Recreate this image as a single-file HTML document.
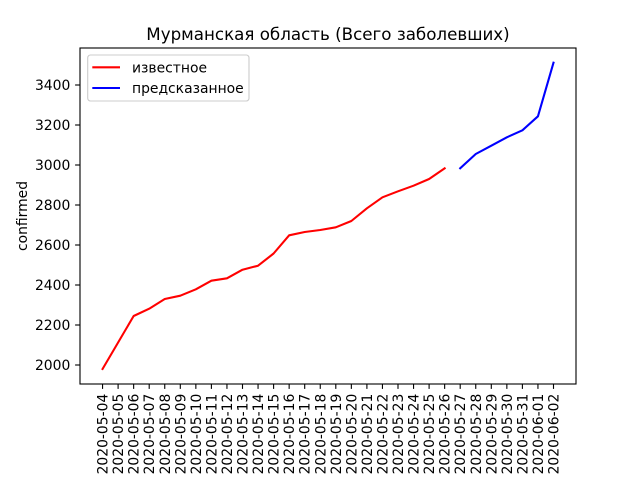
<!DOCTYPE html>
<html><head><meta charset="utf-8"><style>
html,body{margin:0;padding:0;background:#fff;}
svg{display:block;}
text{font-family:"DejaVu Sans","Liberation Sans",sans-serif;fill:#000;}
</style></head><body>
<svg width="640" height="480" viewBox="0 0 640 480" xmlns="http://www.w3.org/2000/svg">
<rect width="640" height="480" fill="#fff"/>
<text x="328" y="40" font-size="16.7" text-anchor="middle">Мурманская область (Всего заболевших)</text>
<!-- series -->
<polyline fill="none" stroke="#ff0000" stroke-width="2.08" stroke-linejoin="round" stroke-linecap="square" points="102.55,369 118.1,342.5 133.65,316 149.2,308.7 164.75,299 180.3,295.7 195.85,289.3 211.4,280.7 226.95,278.3 242.5,269.7 258.05,265.7 273.6,253.5 289.15,235.3 304.7,232 320.25,230 335.8,227.3 351.35,221 366.9,208.3 382.45,197.3 398,191.3 413.55,185.7 429.1,179 444.65,168.3"/>
<polyline fill="none" stroke="#0000ff" stroke-width="2.08" stroke-linejoin="round" stroke-linecap="square" points="460.2,168.3 475.75,154 491.3,145.7 506.85,137.3 522.4,130.3 537.95,116.3 553.5,62.7"/>
<!-- axes frame -->
<rect x="80" y="48" width="496" height="336" fill="none" stroke="#000" stroke-width="1.11"/>
<!-- y ticks -->
<g stroke="#000" stroke-width="1.11">
<line x1="75.1" y1="85" x2="80" y2="85"/>
<line x1="75.1" y1="125" x2="80" y2="125"/>
<line x1="75.1" y1="165" x2="80" y2="165"/>
<line x1="75.1" y1="205" x2="80" y2="205"/>
<line x1="75.1" y1="245" x2="80" y2="245"/>
<line x1="75.1" y1="285" x2="80" y2="285"/>
<line x1="75.1" y1="325" x2="80" y2="325"/>
<line x1="75.1" y1="365" x2="80" y2="365"/>
</g>
<g font-size="13.9" text-anchor="end">
<text x="70.3" y="90">3400</text>
<text x="70.3" y="130">3200</text>
<text x="70.3" y="170">3000</text>
<text x="70.3" y="210">2800</text>
<text x="70.3" y="250">2600</text>
<text x="70.3" y="290">2400</text>
<text x="70.3" y="330">2200</text>
<text x="70.3" y="370">2000</text>
</g>
<text transform="translate(27,216) rotate(-90)" font-size="13.9" text-anchor="middle">confirmed</text>
<!-- x ticks -->
<g stroke="#000" stroke-width="1.11">
<line x1="102.55" y1="384" x2="102.55" y2="388.9"/>
<line x1="118.1" y1="384" x2="118.1" y2="388.9"/>
<line x1="133.65" y1="384" x2="133.65" y2="388.9"/>
<line x1="149.2" y1="384" x2="149.2" y2="388.9"/>
<line x1="164.75" y1="384" x2="164.75" y2="388.9"/>
<line x1="180.3" y1="384" x2="180.3" y2="388.9"/>
<line x1="195.85" y1="384" x2="195.85" y2="388.9"/>
<line x1="211.4" y1="384" x2="211.4" y2="388.9"/>
<line x1="226.95" y1="384" x2="226.95" y2="388.9"/>
<line x1="242.5" y1="384" x2="242.5" y2="388.9"/>
<line x1="258.05" y1="384" x2="258.05" y2="388.9"/>
<line x1="273.6" y1="384" x2="273.6" y2="388.9"/>
<line x1="289.15" y1="384" x2="289.15" y2="388.9"/>
<line x1="304.7" y1="384" x2="304.7" y2="388.9"/>
<line x1="320.25" y1="384" x2="320.25" y2="388.9"/>
<line x1="335.8" y1="384" x2="335.8" y2="388.9"/>
<line x1="351.35" y1="384" x2="351.35" y2="388.9"/>
<line x1="366.9" y1="384" x2="366.9" y2="388.9"/>
<line x1="382.45" y1="384" x2="382.45" y2="388.9"/>
<line x1="398" y1="384" x2="398" y2="388.9"/>
<line x1="413.55" y1="384" x2="413.55" y2="388.9"/>
<line x1="429.1" y1="384" x2="429.1" y2="388.9"/>
<line x1="444.65" y1="384" x2="444.65" y2="388.9"/>
<line x1="460.2" y1="384" x2="460.2" y2="388.9"/>
<line x1="475.75" y1="384" x2="475.75" y2="388.9"/>
<line x1="491.3" y1="384" x2="491.3" y2="388.9"/>
<line x1="506.85" y1="384" x2="506.85" y2="388.9"/>
<line x1="522.4" y1="384" x2="522.4" y2="388.9"/>
<line x1="537.95" y1="384" x2="537.95" y2="388.9"/>
<line x1="553.5" y1="384" x2="553.5" y2="388.9"/>
</g>
<g font-size="13.9" text-anchor="end">
<text transform="translate(107.55,393.7) rotate(-90)">2020-05-04</text>
<text transform="translate(123.1,393.7) rotate(-90)">2020-05-05</text>
<text transform="translate(138.65,393.7) rotate(-90)">2020-05-06</text>
<text transform="translate(154.2,393.7) rotate(-90)">2020-05-07</text>
<text transform="translate(169.75,393.7) rotate(-90)">2020-05-08</text>
<text transform="translate(185.3,393.7) rotate(-90)">2020-05-09</text>
<text transform="translate(200.85,393.7) rotate(-90)">2020-05-10</text>
<text transform="translate(216.4,393.7) rotate(-90)">2020-05-11</text>
<text transform="translate(231.95,393.7) rotate(-90)">2020-05-12</text>
<text transform="translate(247.5,393.7) rotate(-90)">2020-05-13</text>
<text transform="translate(263.05,393.7) rotate(-90)">2020-05-14</text>
<text transform="translate(278.6,393.7) rotate(-90)">2020-05-15</text>
<text transform="translate(294.15,393.7) rotate(-90)">2020-05-16</text>
<text transform="translate(309.7,393.7) rotate(-90)">2020-05-17</text>
<text transform="translate(325.25,393.7) rotate(-90)">2020-05-18</text>
<text transform="translate(340.8,393.7) rotate(-90)">2020-05-19</text>
<text transform="translate(356.35,393.7) rotate(-90)">2020-05-20</text>
<text transform="translate(371.9,393.7) rotate(-90)">2020-05-21</text>
<text transform="translate(387.45,393.7) rotate(-90)">2020-05-22</text>
<text transform="translate(403,393.7) rotate(-90)">2020-05-23</text>
<text transform="translate(418.55,393.7) rotate(-90)">2020-05-24</text>
<text transform="translate(434.1,393.7) rotate(-90)">2020-05-25</text>
<text transform="translate(449.65,393.7) rotate(-90)">2020-05-26</text>
<text transform="translate(465.2,393.7) rotate(-90)">2020-05-27</text>
<text transform="translate(480.75,393.7) rotate(-90)">2020-05-28</text>
<text transform="translate(496.3,393.7) rotate(-90)">2020-05-29</text>
<text transform="translate(511.85,393.7) rotate(-90)">2020-05-30</text>
<text transform="translate(527.4,393.7) rotate(-90)">2020-05-31</text>
<text transform="translate(542.95,393.7) rotate(-90)">2020-06-01</text>
<text transform="translate(558.5,393.7) rotate(-90)">2020-06-02</text>
</g>
<!-- legend -->
<rect x="87.7" y="55" width="161.3" height="46" rx="2.8" ry="2.8" fill="#fff" fill-opacity="0.8" stroke="#cccccc" stroke-width="1.11"/>
<line x1="92.3" y1="67.3" x2="120" y2="67.3" stroke="#ff0000" stroke-width="2.08"/>
<line x1="92.3" y1="88" x2="120" y2="88" stroke="#0000ff" stroke-width="2.08"/>
<text x="132" y="72.3" font-size="13.9">известное</text>
<text x="132" y="93" font-size="13.9">предсказанное</text>
</svg>
</body></html>
